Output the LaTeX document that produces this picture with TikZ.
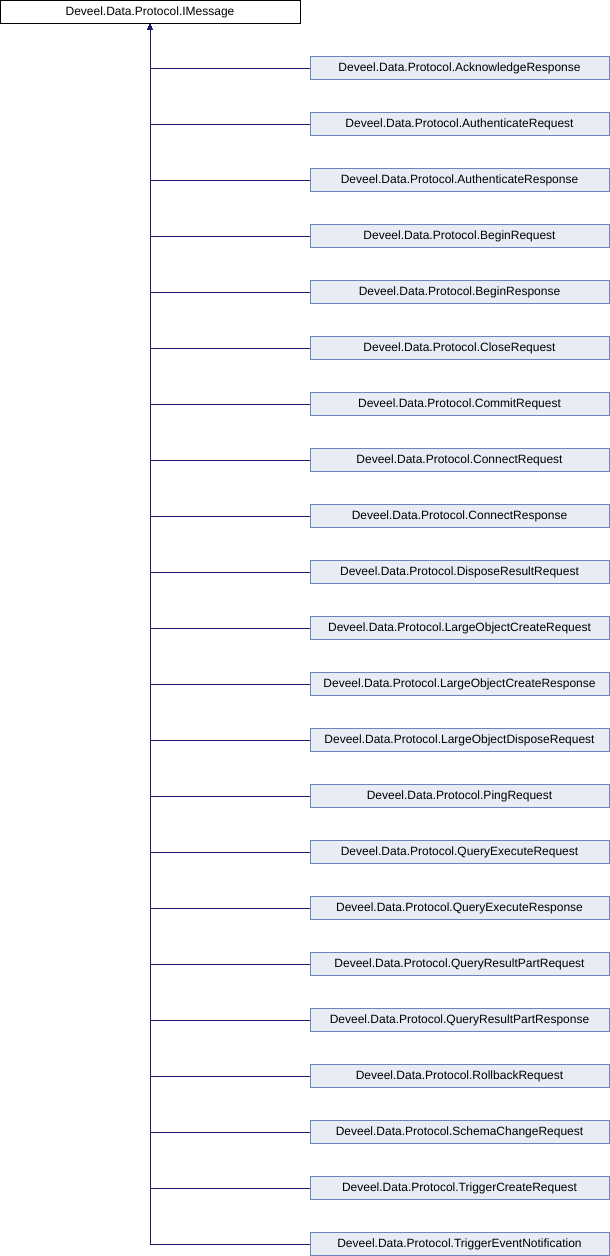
\documentclass[tikz,border=0pt]{standalone}
\usepackage{fontspec}
\setmainfont{Liberation Sans}
\usepackage{xcolor}
\usepackage{tikz}
\usetikzlibrary{positioning,arrows.meta}
\definecolor{edgeblue}{RGB}{25,25,112}
\definecolor{boxfill}{RGB}{232,236,245}
\definecolor{boxline}{RGB}{110,130,190}
\tikzstyle{basebox} = [draw=black, line width=0.8pt, rectangle, fill=white, minimum width=300pt, minimum height=23pt, inner sep=0pt, outer sep=0pt, font=\fontsize{12}{14}\selectfont]
\tikzstyle{derivedbox} = [basebox, draw=boxline, fill=boxfill, minimum width=299pt]
\tikzstyle{inherit} = [draw=edgeblue, line width=0.8pt, {Triangle[length=6pt,width=4.5pt]}-]

\begin{document}
\begin{tikzpicture}[x=1pt, y=-1pt, node distance=33pt]
    \useasboundingbox (0,0) rectangle (610,1256);
    % base interface
    \node [basebox] (imessage) at (150,12) {Deveel.Data.Protocol.IMessage};
    % derived classes
    \node [derivedbox] (ackresp) at (459.5,68) {Deveel.Data.Protocol.AcknowledgeResponse};
    \node [derivedbox, below=of ackresp] (authreq) {Deveel.Data.Protocol.AuthenticateRequest};
    \node [derivedbox, below=of authreq] (authresp) {Deveel.Data.Protocol.AuthenticateResponse};
    \node [derivedbox, below=of authresp] (beginreq) {Deveel.Data.Protocol.BeginRequest};
    \node [derivedbox, below=of beginreq] (beginresp) {Deveel.Data.Protocol.BeginResponse};
    \node [derivedbox, below=of beginresp] (closereq) {Deveel.Data.Protocol.CloseRequest};
    \node [derivedbox, below=of closereq] (commitreq) {Deveel.Data.Protocol.CommitRequest};
    \node [derivedbox, below=of commitreq] (connreq) {Deveel.Data.Protocol.ConnectRequest};
    \node [derivedbox, below=of connreq] (connresp) {Deveel.Data.Protocol.ConnectResponse};
    \node [derivedbox, below=of connresp] (disposereq) {Deveel.Data.Protocol.DisposeResultRequest};
    \node [derivedbox, below=of disposereq] (lobcreatereq) {Deveel.Data.Protocol.LargeObjectCreateRequest};
    \node [derivedbox, below=of lobcreatereq] (lobcreateresp) {Deveel.Data.Protocol.LargeObjectCreateResponse};
    \node [derivedbox, below=of lobcreateresp] (lobdisposereq) {Deveel.Data.Protocol.LargeObjectDisposeRequest};
    \node [derivedbox, below=of lobdisposereq] (pingreq) {Deveel.Data.Protocol.PingRequest};
    \node [derivedbox, below=of pingreq] (queryreq) {Deveel.Data.Protocol.QueryExecuteRequest};
    \node [derivedbox, below=of queryreq] (queryresp) {Deveel.Data.Protocol.QueryExecuteResponse};
    \node [derivedbox, below=of queryresp] (partreq) {Deveel.Data.Protocol.QueryResultPartRequest};
    \node [derivedbox, below=of partreq] (partresp) {Deveel.Data.Protocol.QueryResultPartResponse};
    \node [derivedbox, below=of partresp] (rollbackreq) {Deveel.Data.Protocol.RollbackRequest};
    \node [derivedbox, below=of rollbackreq] (schemareq) {Deveel.Data.Protocol.SchemaChangeRequest};
    \node [derivedbox, below=of schemareq] (triggerreq) {Deveel.Data.Protocol.TriggerCreateRequest};
    \node [derivedbox, below=of triggerreq] (triggerevent) {Deveel.Data.Protocol.TriggerEventNotification};
    % inheritance edges
    \draw [inherit] (imessage.south) |- (ackresp.west);
    \draw [inherit] (imessage.south) |- (authreq.west);
    \draw [inherit] (imessage.south) |- (authresp.west);
    \draw [inherit] (imessage.south) |- (beginreq.west);
    \draw [inherit] (imessage.south) |- (beginresp.west);
    \draw [inherit] (imessage.south) |- (closereq.west);
    \draw [inherit] (imessage.south) |- (commitreq.west);
    \draw [inherit] (imessage.south) |- (connreq.west);
    \draw [inherit] (imessage.south) |- (connresp.west);
    \draw [inherit] (imessage.south) |- (disposereq.west);
    \draw [inherit] (imessage.south) |- (lobcreatereq.west);
    \draw [inherit] (imessage.south) |- (lobcreateresp.west);
    \draw [inherit] (imessage.south) |- (lobdisposereq.west);
    \draw [inherit] (imessage.south) |- (pingreq.west);
    \draw [inherit] (imessage.south) |- (queryreq.west);
    \draw [inherit] (imessage.south) |- (queryresp.west);
    \draw [inherit] (imessage.south) |- (partreq.west);
    \draw [inherit] (imessage.south) |- (partresp.west);
    \draw [inherit] (imessage.south) |- (rollbackreq.west);
    \draw [inherit] (imessage.south) |- (schemareq.west);
    \draw [inherit] (imessage.south) |- (triggerreq.west);
    \draw [inherit] (imessage.south) |- (triggerevent.west);
\end{tikzpicture}
\end{document}
